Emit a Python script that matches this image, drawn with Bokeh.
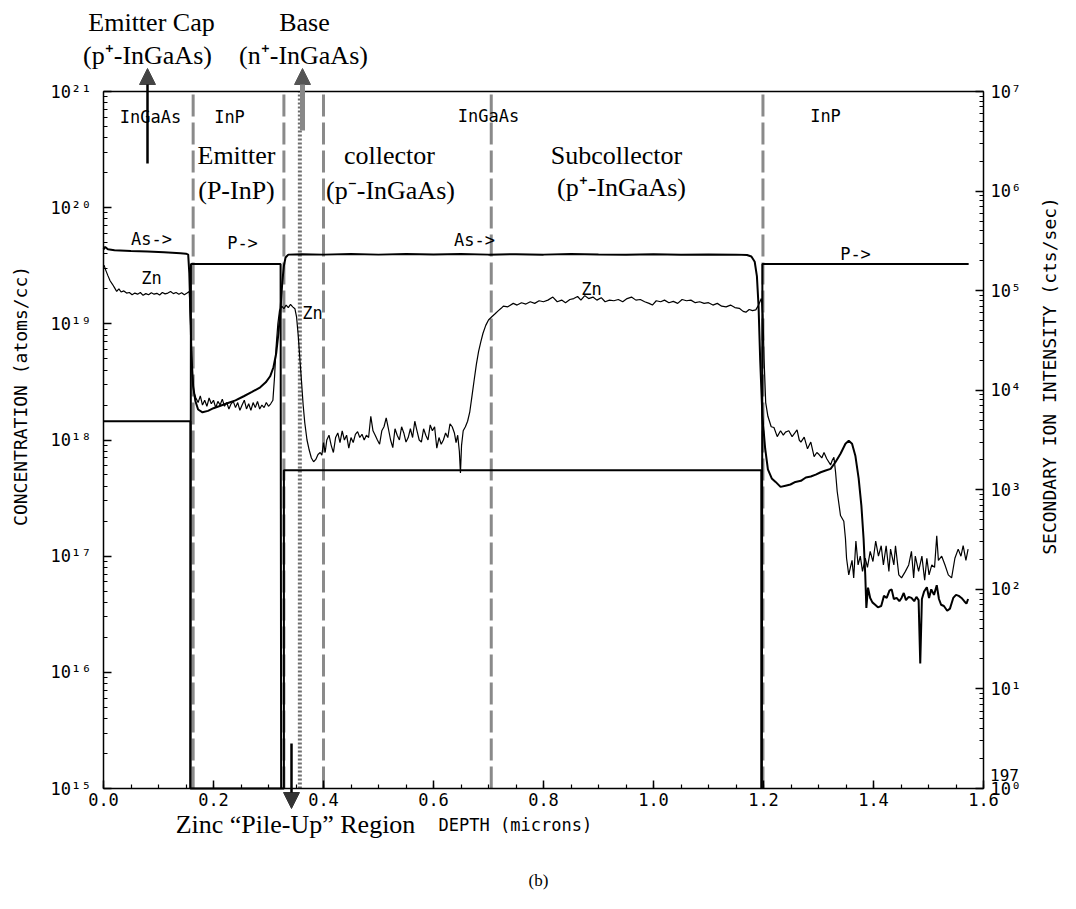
import math
from bokeh.plotting import figure
from bokeh.models import (Range1d, LinearAxis, LogAxis, LogScale, Label, Arrow, NormalHead,
                          SingleIntervalTicker, LogTicker, FixedTicker, CustomJSTickFormatter)
from bokeh.embed import file_html
from bokeh.resources import INLINE

nan = float("nan")

# ---------------- data ----------------
# Zn concentration (atoms/cc), left axis
zn_x = [0.001, 0.004, 0.008, 0.012, 0.016, 0.020, 0.024, 0.028, 0.032, 0.037, 0.042, 0.047, 0.052,
        0.057, 0.062, 0.067, 0.072, 0.077, 0.082, 0.087, 0.092, 0.097, 0.102, 0.107, 0.112, 0.117,
        0.122, 0.127, 0.132, 0.137, 0.142, 0.147, 0.152, 0.156,
        0.159, 0.161, 0.164, 0.168, 0.172, 0.176, 0.180, 0.184, 0.188, 0.192, 0.196, 0.200, 0.204,
        0.208, 0.212, 0.216, 0.220, 0.224, 0.228, 0.232, 0.236, 0.240, 0.244, 0.248, 0.252, 0.256,
        0.260, 0.264, 0.268, 0.272, 0.276, 0.280, 0.284, 0.288, 0.292, 0.296, 0.300, 0.304, 0.308,
        0.311, 0.314, 0.317, 0.320, 0.324, 0.328, 0.332, 0.336, 0.340, 0.344, 0.348, 0.351, 0.354,
        0.357, 0.360, 0.363, 0.366, 0.370, 0.374, 0.378, 0.382, 0.386, 0.390, 0.394, 0.397, 0.400,
        0.403, 0.406, 0.410, 0.414, 0.418, 0.422, 0.426, 0.430, 0.434, 0.438, 0.442, 0.446, 0.450,
        0.454, 0.458, 0.462, 0.466, 0.470, 0.474, 0.478, 0.482, 0.486, 0.490, 0.494, 0.498, 0.502,
        0.506, 0.510, 0.514, 0.518, 0.522, 0.526, 0.530, 0.534, 0.538, 0.542, 0.546, 0.550, 0.554,
        0.558, 0.562, 0.566, 0.570, 0.574, 0.578, 0.582, 0.586, 0.590, 0.594, 0.598, 0.602, 0.606,
        0.610, 0.614, 0.618, 0.622, 0.626, 0.630, 0.634, 0.638, 0.641, 0.644, 0.647, 0.649, 0.651,
        0.654, 0.658, 0.662, 0.666, 0.670, 0.674, 0.678, 0.682, 0.686, 0.690, 0.695, 0.700, 0.706,
        0.712, 0.718, 0.723, 0.727, 0.735, 0.745, 0.752, 0.760, 0.768, 0.776, 0.784, 0.792, 0.800,
        0.808, 0.817, 0.825, 0.833, 0.840, 0.848, 0.855, 0.862, 0.868, 0.875, 0.882, 0.890, 0.897,
        0.905, 0.912, 0.920, 0.928, 0.936, 0.944, 0.952, 0.960, 0.968, 0.976, 0.984, 0.992, 0.998,
        1.005, 1.013, 1.020, 1.028, 1.036, 1.044, 1.052, 1.060, 1.068, 1.076, 1.084, 1.092, 1.100,
        1.108, 1.116, 1.124, 1.132, 1.140, 1.148, 1.156, 1.163, 1.168, 1.174, 1.180, 1.186, 1.191,
        1.196, 1.199, 1.201, 1.204, 1.208, 1.214, 1.219, 1.225, 1.231, 1.236, 1.240, 1.246, 1.252,
        1.257, 1.261, 1.265, 1.268, 1.274, 1.280, 1.286, 1.292, 1.297, 1.301, 1.306, 1.310, 1.315,
        1.322, 1.325, 1.328, 1.331, 1.334, 1.340, 1.346, 1.349, 1.351, 1.355, 1.358, 1.361, 1.364,
        1.368, 1.372, 1.376, 1.380, 1.385, 1.389, 1.394, 1.399, 1.404, 1.409, 1.414, 1.418, 1.423,
        1.428, 1.431, 1.437, 1.440, 1.446, 1.451, 1.458, 1.464, 1.469, 1.473, 1.476, 1.482, 1.488,
        1.493, 1.497, 1.501, 1.506, 1.511, 1.515, 1.518, 1.524, 1.530, 1.536, 1.542, 1.548, 1.554,
        1.559, 1.563, 1.568, 1.572]
zn_conc = [3.2e19, 2.9e19, 2.6e19, 2.35e19, 2.2e19, 2.05e19, 1.9e19, 2.0e19, 1.88e19, 1.92e19, 1.84e19,
           1.86e19, 1.78e19, 1.84e19, 1.8e19, 1.86e19, 1.76e19, 1.82e19, 1.78e19, 1.85e19, 1.8e19,
           1.83e19, 1.77e19, 1.86e19, 1.81e19, 1.84e19, 1.9e19, 1.82e19, 1.86e19, 1.8e19, 1.85e19,
           1.78e19, 1.84e19, 1.9e19,
           8e18, 4e18, 2.6e18, 2.3e18, 2.1e18, 2.4e18, 2.0e18, 2.2e18, 1.95e18, 2.3e18, 2.05e18,
           2.2e18, 1.9e18, 2.15e18, 2.0e18, 2.25e18, 1.95e18, 2.1e18, 1.85e18, 2.05e18, 2.15e18,
           1.9e18, 2.1e18, 1.8e18, 2.0e18, 2.2e18, 1.85e18, 2.05e18, 1.8e18, 2.1e18, 1.9e18, 2.15e18,
           1.85e18, 2.0e18, 1.9e18, 2.1e18, 1.95e18, 2.05e18, 2.2e18,
           3.5e18, 6.5e18, 1.0e19, 1.3e19, 1.42e19, 1.35e19, 1.45e19, 1.38e19, 1.47e19, 1.4e19,
           1.35e19, 1.15e19, 8e18, 5e18, 3.2e18, 2.0e18, 1.4e18, 1.0e18, 8.2e17, 7.0e17, 6.5e17,
           6.8e17, 7.5e17, 7.8e17, 7.4e17, 9.5e17, 7.8e17, 1.0e18,
           1.1e18, 9.0e17, 7.8e17, 1.05e18, 1.15e18, 9.5e17, 1.2e18, 1.0e18, 1.1e18, 8.5e17, 1.05e18,
           9.5e17, 1.12e18, 1.18e18, 1.05e18, 1.12e18, 1.0e18, 1.1e18, 1.05e18, 1.6e18, 1.2e18,
           1.1e18, 1.0e18, 9.2e17, 1.2e18, 1.3e18, 1.55e18, 1.25e18, 1.0e18, 8.6e17, 1.25e18, 1.1e18,
           1.0e18, 1.3e18, 1.15e18, 9.6e17, 1.05e18, 1.25e18, 1.05e18, 1.45e18, 1.2e18, 1.0e18,
           9.6e17, 1.25e18, 1.1e18, 1.0e18, 1.35e18, 1.2e18, 1.3e18, 8.5e17, 1.05e18, 9.2e17, 1.0e18,
           1.15e18, 1.05e18, 1.38e18, 1.3e18, 1.15e18, 9.5e17, 1.1e18, 8.0e17, 5.2e17, 9.0e17,
           1.2e18, 1.3e18, 1.45e18, 1.75e18, 2.4e18, 3.3e18, 4.5e18, 5.8e18, 7.0e18, 8.3e18, 9.7e18,
           1.08e19, 1.15e19, 1.22e19, 1.3e19, 1.36e19,
           1.42e19, 1.4e19, 1.5e19, 1.45e19, 1.52e19, 1.48e19, 1.55e19, 1.5e19, 1.58e19, 1.55e19,
           1.6e19, 1.7e19, 1.55e19, 1.6e19, 1.52e19, 1.62e19, 1.65e19, 1.72e19, 1.6e19, 1.75e19,
           1.65e19, 1.7e19, 1.6e19, 1.68e19, 1.55e19, 1.6e19, 1.58e19, 1.62e19, 1.55e19, 1.65e19,
           1.7e19, 1.6e19, 1.62e19, 1.55e19, 1.5e19, 1.45e19, 1.58e19, 1.55e19, 1.6e19, 1.52e19,
           1.56e19, 1.5e19, 1.62e19, 1.58e19, 1.6e19, 1.52e19, 1.55e19, 1.5e19, 1.52e19, 1.45e19,
           1.5e19, 1.42e19, 1.4e19, 1.45e19, 1.38e19, 1.36e19, 1.28e19, 1.26e19, 1.33e19, 1.3e19,
           1.32e19, 1.45e19, 1.65e19, 1.2e19, 5e18, 2.1e18, 1.6e18,
           1.3e18, 1.28e18, 1.07e18, 1.2e18, 1.1e18, 1.17e18, 1.2e18, 1.07e18, 1.15e18, 1.22e18,
           1.0e18, 9.6e17, 1.06e18, 8.4e17, 9.6e17, 7.2e17, 7.8e17, 7.5e17, 7.0e17, 7.8e17, 6.9e17,
           6.1e17, 6.7e17, 7.1e17, 5.3e17, 3.6e17, 2.24e17, 2.0e17, 1.42e17, 9.6e16, 6.9e16, 8.0e16,
           9.2e16, 6.5e16, 1.35e17, 8.4e16, 1.0e17, 7.4e16, 9.6e16, 8.0e16, 1.1e17, 9.0e16, 1.35e17,
           1.0e17, 1.23e17, 8.4e16, 1.23e17, 7.4e16, 1.15e17, 8.4e16, 1.23e17, 6.9e16, 6.5e16, 7.4e16,
           8.4e16, 1.1e17, 6.5e16, 1.0e17, 7.4e16, 1.0e17, 6.2e16, 9.6e16, 6.9e16, 8.4e16, 8.0e16,
           1.5e17, 9.2e16, 1.0e17, 8.4e16, 6.9e16, 6.5e16, 9.6e16, 1.15e17, 1.0e17, 1.23e17, 9.2e16,
           1.15e17]

# As secondary-ion signal (cts/sec), right axis
as_x = [0.000, 0.003, 0.008, 0.020, 0.050, 0.080, 0.110, 0.140, 0.150, 0.154, 0.156, 0.158, 0.160,
        0.163, 0.167, 0.172, 0.180, 0.190, 0.200, 0.210, 0.225, 0.240, 0.255, 0.270, 0.285, 0.295,
        0.303, 0.309, 0.314, 0.318, 0.322, 0.325, 0.328, 0.331, 0.336, 0.360, 0.400, 0.450, 0.500,
        0.550, 0.600, 0.650, 0.700, 0.750, 0.800, 0.850, 0.900, 0.950, 1.000, 1.050, 1.100, 1.150,
        1.170, 1.178, 1.184, 1.188, 1.191, 1.194, 1.198, 1.203, 1.208, 1.215, 1.222, 1.231, 1.240,
        1.249, 1.258, 1.268, 1.277, 1.286, 1.295, 1.304, 1.313, 1.322, 1.331, 1.340, 1.349, 1.355,
        1.361, 1.367, 1.373, 1.378, 1.382, 1.385, 1.387, 1.390, 1.394, 1.398, 1.403, 1.408, 1.414,
        1.419, 1.424, 1.429, 1.433, 1.437, 1.442, 1.447, 1.451, 1.455, 1.459, 1.464, 1.469, 1.474,
        1.478, 1.482, 1.485, 1.488, 1.492, 1.497, 1.501, 1.505, 1.510, 1.515, 1.519, 1.523, 1.528,
        1.534, 1.539, 1.545, 1.550, 1.555, 1.560, 1.565, 1.569, 1.572]
as_cts = [2.6e5, 2.75e5, 2.6e5, 2.55e5, 2.5e5, 2.47e5, 2.43e5, 2.38e5, 2.35e5, 2.3e5, 1.5e5, 6e4, 2.2e4,
          1.1e4, 7.8e3, 6.4e3, 6.0e3, 6.2e3, 6.6e3, 6.9e3, 7.4e3, 7.9e3, 8.7e3, 9.6e3, 1.07e4, 1.2e4,
          1.38e4, 1.7e4, 2.35e4, 3.7e4, 6.7e4, 1.2e5, 1.78e5, 2.15e5, 2.3e5, 2.32e5, 2.3e5, 2.33e5,
          2.3e5, 2.34e5, 2.31e5, 2.33e5, 2.3e5, 2.32e5, 2.3e5, 2.33e5, 2.31e5, 2.3e5, 2.32e5, 2.3e5,
          2.31e5, 2.3e5, 2.28e5, 2.2e5, 1.95e5, 1.4e5, 7e4, 2.0e4, 5.5e3, 2.6e3, 1.6e3, 1.3e3, 1.2e3,
          1.07e3, 1.1e3, 1.13e3, 1.2e3, 1.23e3, 1.33e3, 1.36e3, 1.42e3, 1.5e3, 1.56e3, 1.62e3, 1.9e3,
          2.3e3, 2.9e3, 3.1e3, 2.9e3, 2.2e3, 1.3e3, 6.9e2, 3.2e2, 1.4e2, 6.5e1, 1.04e2, 8.2e1, 7.4e1,
          7.0e1, 6.6e1, 6.8e1, 8.6e1, 8.2e1, 9.7e1, 1.0e2, 8.0e1, 8.2e1, 7.6e1, 8.2e1, 9.2e1, 7.8e1,
          8.4e1, 8.2e1, 7.6e1, 8.4e1, 7.8e1, 1.8e1, 8.0e1, 9.5e1, 1.05e2, 8.2e1, 1.0e2, 8.8e1, 1.1e2,
          8.0e1, 7.0e1, 6.8e1, 6.1e1, 6.4e1, 8.2e1, 8.8e1, 8.6e1, 8.2e1, 7.6e1, 7.2e1, 8.0e1]

# P secondary-ion signal (cts/sec), right axis (InP layers)
p_x = [0.158, 0.159, 0.322, 0.323, nan, 1.197, 1.198, 1.573]
p_cts = [1, 1.85e5, 1.85e5, 1, nan, 1, 1.85e5, 1.85e5]

# step profile (atoms/cc), left axis
step_x = [0.0, 0.158, 0.158, 0.328, 0.328, 1.196, 1.196]
step_conc = [1.45e18, 1.45e18, 1e15, 1e15, 5.5e17, 5.5e17, 1e15]

# layer boundaries (microns) and base centre
boundaries = [0.163, 0.328, 0.400, 0.705, 1.199]
base_center = [0.357]

# axis extents
depth_lim = (0.0, 1.6)
conc_lim = (1e15, 1e21)
ions_lim = (1.0, 1e7)

# ---------------- layout (pixels) ----------------
W, H = 1060, 890
FL, FR, FT, FB = 103, 983, 91, 788          # frame edges in canvas pixels
xpp = (depth_lim[1] - depth_lim[0]) / (FR - FL)
lpp = (math.log10(conc_lim[1]) - math.log10(conc_lim[0])) / (FB - FT)
rpp = (math.log10(ions_lim[1]) - math.log10(ions_lim[0])) / (FB - FT)
x_rng = Range1d(depth_lim[0] - FL * xpp, depth_lim[1] + (W - FR) * xpp)
y_rng = Range1d(10 ** (math.log10(conc_lim[0]) - (H - FB) * lpp),
                10 ** (math.log10(conc_lim[1]) + FT * lpp))
r_rng = Range1d(10 ** (math.log10(ions_lim[0]) - (H - FB) * rpp),
                10 ** (math.log10(ions_lim[1]) + FT * rpp))

p = figure(width=W, height=H, x_range=x_rng, y_range=y_rng, y_axis_type="log",
           output_backend="svg", toolbar_location=None,
           min_border_left=0, min_border_right=0, min_border_top=0, min_border_bottom=0,
           background_fill_color="white", border_fill_color="white")
p.grid.visible = False
p.outline_line_color = None
p.extra_y_ranges = {"ions": r_rng}
p.extra_y_scales = {"ions": LogScale()}

sup_js = """
const s = {'0':'\u2070','1':'\u00b9','2':'\u00b2','3':'\u00b3','4':'\u2074','5':'\u2075',
           '6':'\u2076','7':'\u2077','8':'\u2078','9':'\u2079','-':'\u207b'};
const e = Math.round(Math.log10(tick));
return '10' + String(e).split('').map(c => s[c]).join('');
"""

mono = "DejaVu Sans Mono"
serif = "Liberation Serif"

def style_axis(ax):
    ax.axis_line_width = 1.5
    ax.major_tick_line_width = 1.5
    ax.minor_tick_line_width = 1.2
    ax.major_tick_in = 8
    ax.major_tick_out = 0
    ax.minor_tick_in = 4
    ax.minor_tick_out = 0
    ax.major_label_text_font = mono
    ax.major_label_text_font_size = "17px"
    ax.major_label_text_color = "black"

xa = p.xaxis[0]
xa.ticker = SingleIntervalTicker(interval=0.2, num_minor_ticks=4)
xa.formatter = CustomJSTickFormatter(code="return tick.toFixed(1);")
xa.fixed_location = conc_lim[0]
xa.bounds = depth_lim
style_axis(xa)
xa.major_label_standoff = 4

ya = p.yaxis[0]
ya.ticker = LogTicker(num_minor_ticks=10)
ya.formatter = CustomJSTickFormatter(code=sup_js)
ya.fixed_location = depth_lim[0]
ya.bounds = conc_lim
style_axis(ya)
ya.major_label_standoff = 12

ra = LogAxis(y_range_name="ions", ticker=LogTicker(num_minor_ticks=10),
             formatter=CustomJSTickFormatter(code=sup_js),
             fixed_location=depth_lim[1], bounds=ions_lim)
style_axis(ra)
ra.major_label_standoff = 7
p.add_layout(ra, "right")

ta = LinearAxis(ticker=FixedTicker(ticks=[]), fixed_location=conc_lim[1], bounds=depth_lim)
ta.axis_line_width = 1.5
ta.major_tick_in = 0
ta.major_tick_out = 0
ta.minor_tick_in = 0
ta.minor_tick_out = 0
p.add_layout(ta, "above")

# layer boundaries
p.segment(x0=boundaries, y0=[conc_lim[0]] * len(boundaries), x1=boundaries,
          y1=[conc_lim[1]] * len(boundaries), line_color="#8a8a8a", line_width=3,
          line_dash="22 6")
p.segment(x0=base_center, y0=[conc_lim[0]], x1=base_center, y1=[conc_lim[1]],
          line_color="#6e6e6e", line_width=4, line_dash="2 2")

# data lines
p.line(step_x, step_conc, line_color="black", line_width=2)
p.line(p_x, p_cts, y_range_name="ions", line_color="black", line_width=2)
p.line(as_x, as_cts, y_range_name="ions", line_color="black", line_width=2)
p.line(zn_x, zn_conc, line_color="black", line_width=1.2)

def lab(px, py, t, font, size, angle=0.0):
    p.add_layout(Label(x=px, y=H - py, x_units="screen", y_units="screen", text=t,
                       text_font=font, text_font_size=size, text_align="center",
                       text_baseline="middle", angle=angle, text_color="black"))

# plotter labels inside the frame
for px, py, t in [(150, 116, "InGaAs"), (229, 116, "InP"), (488, 115, "InGaAs"),
                  (825, 115, "InP"), (151, 238, "As->"), (242, 242, "P->"),
                  (474, 239, "As->"), (855, 253, "P->"), (151, 277, "Zn"),
                  (312, 312, "Zn"), (591, 288, "Zn")]:
    lab(px, py, t, mono, "17px")

# serif annotations
for px, py, t in [(151, 22, "Emitter Cap"), (147, 55, "(p\u207a-InGaAs)"),
                  (304, 22, "Base"), (303, 55, "(n\u207a-InGaAs)"),
                  (236, 155, "Emitter"), (236, 190, "(P-InP)"),
                  (389, 155, "collector"), (390, 190, "(p\u207b-InGaAs)"),
                  (616, 155, "Subcollector"), (621, 187, "(p\u207a-InGaAs)"),
                  (295, 824, "Zinc \u201cPile-Up\u201d Region")]:
    lab(px, py, t, serif, "26px")
lab(538, 880, "(b)", serif, "17px")

# axis titles
lab(520, 824, "DEPTH  (microns)", mono, "17px")
lab(20, 390, "CONCENTRATION  (atoms/cc)", mono, "18px", angle=math.pi / 2)
lab(1049, 370, "SECONDARY ION INTENSITY  (cts/sec)", mono, "18px", angle=math.pi / 2)
lab(1004, 774, "197", mono, "16px")

# arrows (positions in canvas pixels -> screen units)
def arrow(px, py0, py1, color, width, head_color, size):
    p.add_layout(Arrow(end=NormalHead(size=size, fill_color=head_color, line_color=head_color),
                       x_start=px, y_start=H - py0, x_end=px, y_end=H - py1,
                       start_units="screen", end_units="screen",
                       line_color=color, line_width=width))

arrow(147, 163, 68, "black", 2.5, "#444444", 16)
arrow(302, 130, 68, "#888888", 5, "#555555", 16)
arrow(291, 743, 808, "black", 2.5, "#333333", 16)

open("out.html", "w", encoding="utf-8").write(file_html(p, INLINE))
